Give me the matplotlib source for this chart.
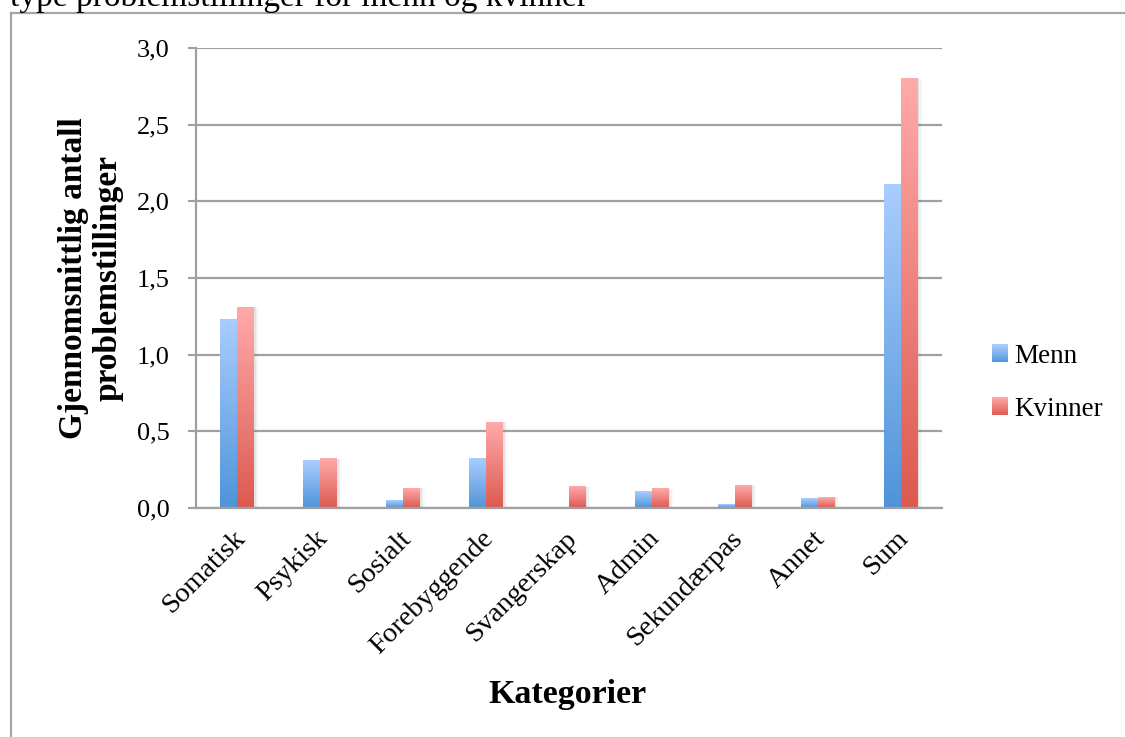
import numpy as np
import matplotlib
matplotlib.use("Agg")
import matplotlib.pyplot as plt
from matplotlib.lines import Line2D
from matplotlib.patches import Rectangle, Patch
from matplotlib.legend_handler import HandlerPatch
from matplotlib.colors import LinearSegmentedColormap
from matplotlib.transforms import ScaledTranslation

# ---- data ----
categories = ["Somatisk", "Psykisk", "Sosialt", "Forebyggende", "Svangerskap",
              "Admin", "Sekundærpas", "Annet", "Sum"]
menn = [1.23, 0.31, 0.05, 0.32, 0.0, 0.11, 0.02, 0.065, 2.11]
kvinner = [1.31, 0.32, 0.13, 0.56, 0.14, 0.125, 0.15, 0.07, 2.80]
series_names = ["Menn", "Kvinner"]
yticks = [0.0, 0.5, 1.0, 1.5, 2.0, 2.5, 3.0]
ytick_labels = ["0,0", "0,5", "1,0", "1,5", "2,0", "2,5", "3,0"]
ylabel = "Gjennomsnittlig antall\nproblemstillinger"
xlabel = "Kategorier"
page_text = "type problemstillinger for menn og kvinner"

# ---- style ----
SERIF = ["Liberation Serif", "DejaVu Serif"]
plt.rcParams["font.family"] = SERIF
blue_top, blue_bot = "#aacdff", "#4f94d9"
red_top, red_bot = "#ffaaaa", "#dc5a50"
grid_col = "#a0a0a0"
W, H = 1125, 737
fig = plt.figure(figsize=(W / 100, H / 100), dpi=100)
ax = fig.add_axes([196 / W, 1 - 508 / H, (942 - 196) / W, (508 - 48) / H])

x = np.arange(len(categories))
bw = 0.205
bars_m = ax.bar(x - bw / 2, menn, bw, color="none", zorder=3)
bars_k = ax.bar(x + bw / 2, kvinner, bw, color="none", zorder=3)

grad = np.linspace(0, 1, 256).reshape(-1, 1)
cm_b = LinearSegmentedColormap.from_list("b", [blue_bot, blue_top])
cm_r = LinearSegmentedColormap.from_list("r", [red_bot, red_top])

for bars, cm in ((bars_m, cm_b), (bars_k, cm_r)):
    for b in bars:
        x0, w, h = b.get_x(), b.get_width(), b.get_height()
        if h <= 0:
            continue
        # soft shadow
        for k, a in enumerate([0.10, 0.07, 0.04]):
            sh = Rectangle((x0, 0), w, h, facecolor="#808080", edgecolor="none",
                           alpha=a, zorder=2,
                           transform=ax.transData + ScaledTranslation((1.5 + 1.5 * k) / 100, 0, fig.dpi_scale_trans))
            ax.add_patch(sh)
        ax.imshow(grad, extent=(x0, x0 + w, 0, h), origin="lower", cmap=cm,
                  aspect="auto", zorder=3, interpolation="bilinear")

ax.set_xlim(-0.5, len(categories) - 0.5)
ax.set_ylim(0, 3.0)
ax.set_yticks(yticks)
ax.set_yticklabels(ytick_labels, fontsize=19)
# category labels: anchored slightly left of the category centre (no visible ticks)
ax.set_xticks(x - 0.06)
ax.set_xticklabels(categories, fontsize=20.5, rotation=45, ha="right", va="top",
                   rotation_mode="anchor")

ax.tick_params(axis="x", length=0, pad=13)
ax.tick_params(axis="y", length=6, width=1.5, color=grid_col, pad=13)
ax.yaxis.grid(True, color=grid_col, linewidth=1.6, zorder=1)
ax.set_axisbelow(True)
for s in ("top", "right"):
    ax.spines[s].set_visible(False)
for s in ("left", "bottom"):
    ax.spines[s].set_color(grid_col)
    ax.spines[s].set_linewidth(1.6)
    ax.spines[s].set_zorder(4)

fig.text(91 / W, 1 - 278 / H, ylabel, rotation=90, ha="center", va="center",
         multialignment="center", fontsize=24, fontweight="bold", linespacing=1.15)
fig.text(567 / W, 1 - 695 / H, xlabel, ha="center", va="center",
         fontsize=24.5, fontweight="bold")


# ---- legend with gradient squares ----
class GradHandler(HandlerPatch):
    def __init__(self, c_top, c_bot, **kw):
        super().__init__(**kw)
        self.cm = LinearSegmentedColormap.from_list("g", [c_bot, c_top])

    def create_artists(self, legend, orig_handle, xdescent, ydescent, width,
                       height, fontsize, trans):
        n = 12
        arts = []
        for i in range(n):
            r = Rectangle((-xdescent, -ydescent + height * i / n), width,
                          height / n + 0.3, facecolor=self.cm((i + 0.5) / n),
                          edgecolor="none", transform=trans)
            arts.append(r)
        return arts


h_m = Patch(facecolor=blue_bot)
h_k = Patch(facecolor=red_bot)
leg = fig.legend([h_m, h_k], series_names, loc="center left",
                 bbox_to_anchor=(992 / W, 1 - 383 / H),
                 bbox_transform=fig.transFigure, frameon=False, fontsize=19.5,
                 borderpad=0, borderaxespad=0, handlelength=0.58,
                 handleheight=0.62, handletextpad=0.25, labelspacing=1.02,
                 handler_map={h_m: GradHandler(blue_top, blue_bot),
                              h_k: GradHandler(red_top, red_bot)})

# ---- page frame and cut-off caption ----
fig.add_artist(Line2D([11 / W, 1.0], [1 - 13 / H, 1 - 13 / H],
                      transform=fig.transFigure, color="#a6a6a6", linewidth=1.6))
fig.add_artist(Line2D([11 / W, 11 / W], [1 - 13 / H, 0.0],
                      transform=fig.transFigure, color="#a6a6a6", linewidth=1.6))
fig.text(10 / W, 1 - 6 / H, page_text, ha="left", va="baseline", fontsize=24)

fig.savefig("out.png", dpi=100)
